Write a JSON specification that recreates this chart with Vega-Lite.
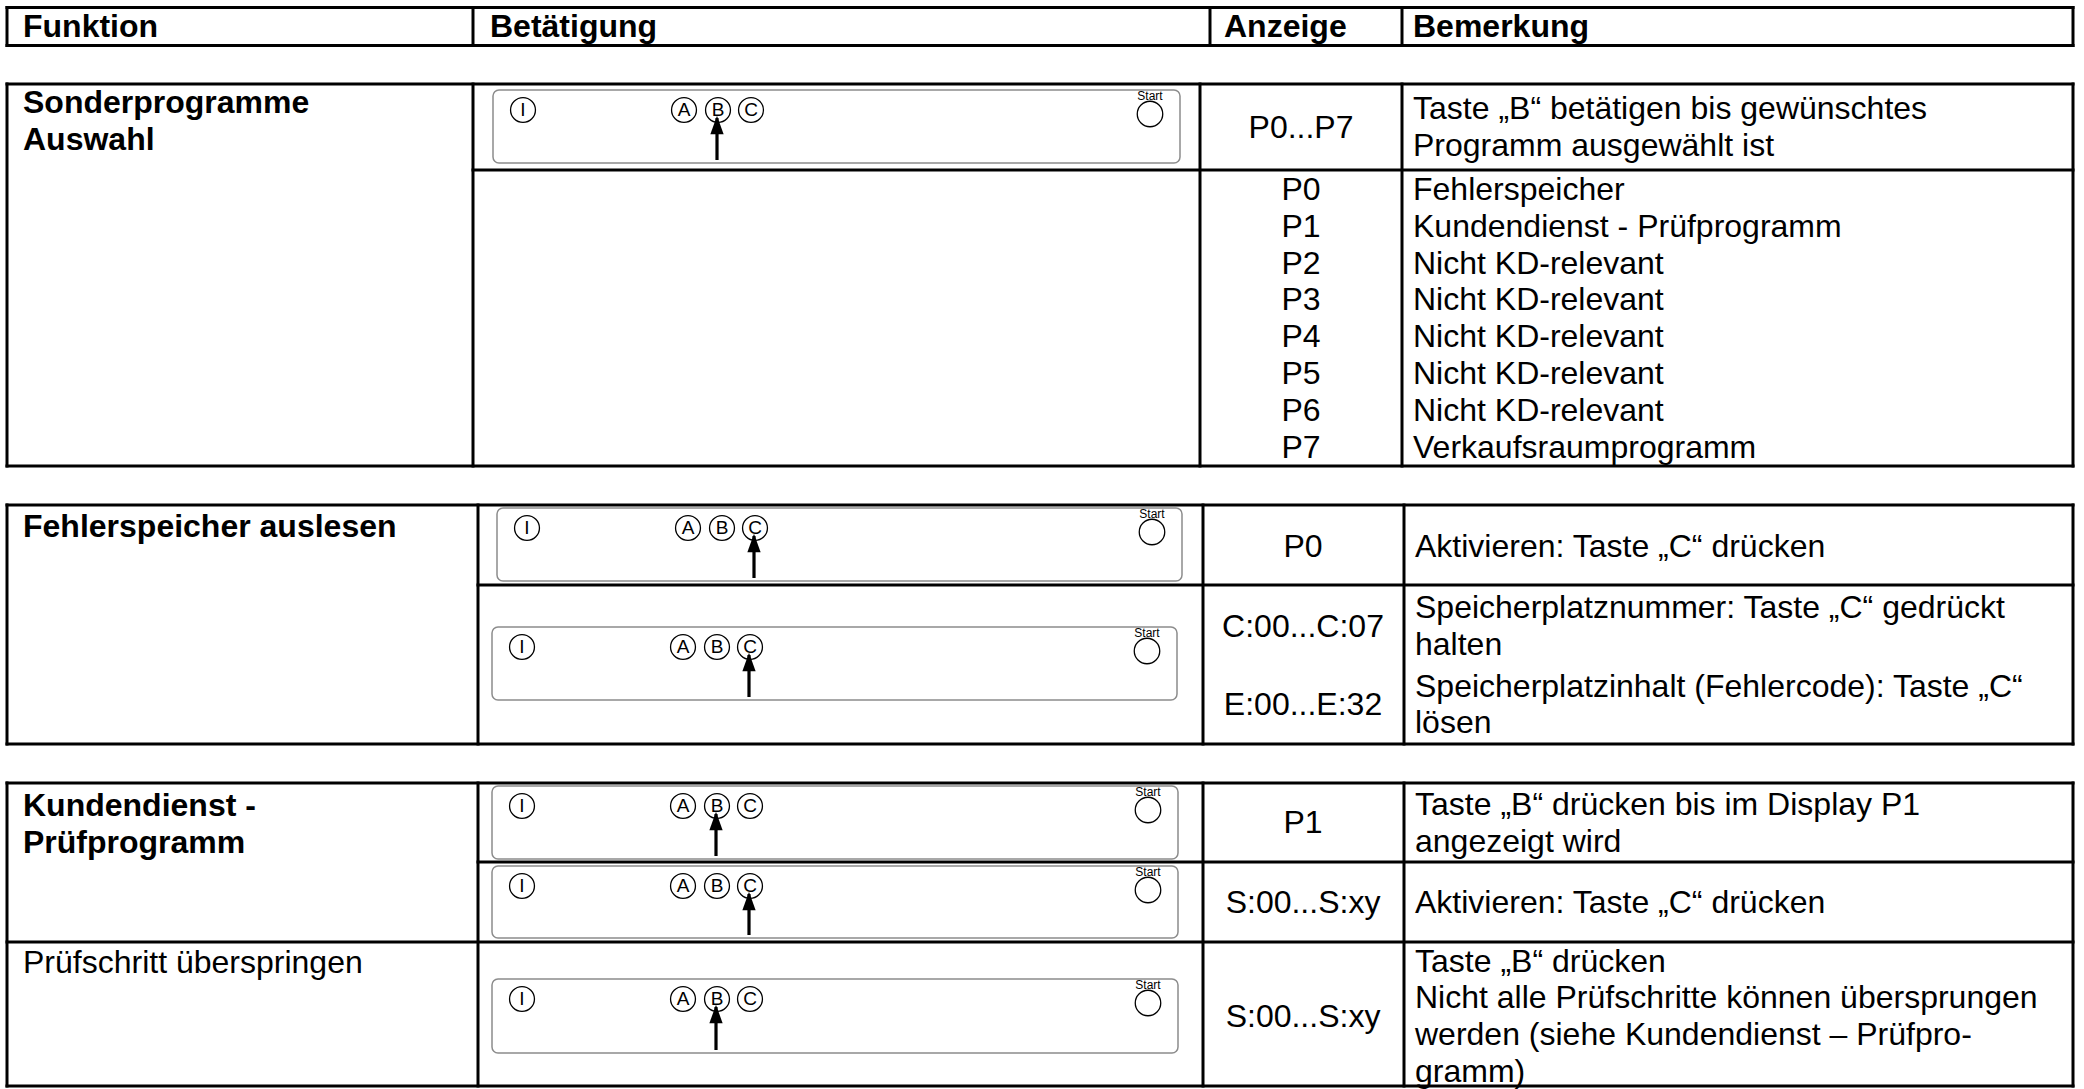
{
  "$schema": "https://vega.github.io/schema/vega-lite/v6.json",
  "autosize": {"type": "fit", "contains": "padding"},
  "width": 2084,
  "height": 1089,
  "padding": 0,
  "background": "white",
  "config": {"view": {"stroke": null}, "font": "Liberation Sans"},
  "datasets": {
    "grid": [
      {"x": 7, "x2": 2073, "y": 7.5, "y2": 7.5},
      {"x": 7, "x2": 2073, "y": 45.5, "y2": 45.5},
      {"x": 7, "x2": 7, "y": 7.5, "y2": 45.5},
      {"x": 473, "x2": 473, "y": 7.5, "y2": 45.5},
      {"x": 1210, "x2": 1210, "y": 7.5, "y2": 45.5},
      {"x": 1402, "x2": 1402, "y": 7.5, "y2": 45.5},
      {"x": 2073, "x2": 2073, "y": 7.5, "y2": 45.5},
      {"x": 7, "x2": 2073, "y": 84, "y2": 84},
      {"x": 473, "x2": 2073, "y": 170, "y2": 170},
      {"x": 7, "x2": 2073, "y": 466, "y2": 466},
      {"x": 7, "x2": 7, "y": 84, "y2": 466},
      {"x": 473, "x2": 473, "y": 84, "y2": 466},
      {"x": 1200, "x2": 1200, "y": 84, "y2": 466},
      {"x": 1402, "x2": 1402, "y": 84, "y2": 466},
      {"x": 2073, "x2": 2073, "y": 84, "y2": 466},
      {"x": 7, "x2": 2073, "y": 505, "y2": 505},
      {"x": 478, "x2": 2073, "y": 585, "y2": 585},
      {"x": 7, "x2": 2073, "y": 744, "y2": 744},
      {"x": 7, "x2": 7, "y": 505, "y2": 744},
      {"x": 478, "x2": 478, "y": 505, "y2": 744},
      {"x": 1203, "x2": 1203, "y": 505, "y2": 744},
      {"x": 1404, "x2": 1404, "y": 505, "y2": 744},
      {"x": 2073, "x2": 2073, "y": 505, "y2": 744},
      {"x": 7, "x2": 2073, "y": 783, "y2": 783},
      {"x": 478, "x2": 2073, "y": 862, "y2": 862},
      {"x": 7, "x2": 2073, "y": 942, "y2": 942},
      {"x": 7, "x2": 2073, "y": 1086, "y2": 1086},
      {"x": 7, "x2": 7, "y": 783, "y2": 1086},
      {"x": 478, "x2": 478, "y": 783, "y2": 1086},
      {"x": 1203, "x2": 1203, "y": 783, "y2": 1086},
      {"x": 1404, "x2": 1404, "y": 783, "y2": 1086},
      {"x": 2073, "x2": 2073, "y": 783, "y2": 1086}
    ],
    "panels": [
      {"panel": "S1", "x": 493, "x2": 1180, "y": 90, "y2": 163},
      {"panel": "S2a", "x": 497, "x2": 1182, "y": 508, "y2": 581},
      {"panel": "S2b", "x": 492, "x2": 1177, "y": 627, "y2": 700},
      {"panel": "S3a", "x": 492, "x2": 1178, "y": 786, "y2": 859},
      {"panel": "S3b", "x": 492, "x2": 1178, "y": 866, "y2": 938},
      {"panel": "S3c", "x": 492, "x2": 1178, "y": 979, "y2": 1053}
    ],
    "keys": [
      {"panel": "S1", "k": "I", "x": 523, "y": 110},
      {"panel": "S1", "k": "A", "x": 684, "y": 110},
      {"panel": "S1", "k": "B", "x": 718, "y": 110},
      {"panel": "S1", "k": "C", "x": 751, "y": 110},
      {"panel": "S2a", "k": "I", "x": 527, "y": 528},
      {"panel": "S2a", "k": "A", "x": 688, "y": 528},
      {"panel": "S2a", "k": "B", "x": 722, "y": 528},
      {"panel": "S2a", "k": "C", "x": 755, "y": 528},
      {"panel": "S2b", "k": "I", "x": 522, "y": 647},
      {"panel": "S2b", "k": "A", "x": 683, "y": 647},
      {"panel": "S2b", "k": "B", "x": 717, "y": 647},
      {"panel": "S2b", "k": "C", "x": 750, "y": 647},
      {"panel": "S3a", "k": "I", "x": 522, "y": 806},
      {"panel": "S3a", "k": "A", "x": 683, "y": 806},
      {"panel": "S3a", "k": "B", "x": 717, "y": 806},
      {"panel": "S3a", "k": "C", "x": 750, "y": 806},
      {"panel": "S3b", "k": "I", "x": 522, "y": 886},
      {"panel": "S3b", "k": "A", "x": 683, "y": 886},
      {"panel": "S3b", "k": "B", "x": 717, "y": 886},
      {"panel": "S3b", "k": "C", "x": 750, "y": 886},
      {"panel": "S3c", "k": "I", "x": 522, "y": 999},
      {"panel": "S3c", "k": "A", "x": 683, "y": 999},
      {"panel": "S3c", "k": "B", "x": 717, "y": 999},
      {"panel": "S3c", "k": "C", "x": 750, "y": 999}
    ],
    "startbtn": [
      {"panel": "S1", "label": "Start", "x": 1150, "y": 114},
      {"panel": "S2a", "label": "Start", "x": 1152, "y": 532},
      {"panel": "S2b", "label": "Start", "x": 1147, "y": 651},
      {"panel": "S3a", "label": "Start", "x": 1148, "y": 810},
      {"panel": "S3b", "label": "Start", "x": 1148, "y": 890},
      {"panel": "S3c", "label": "Start", "x": 1148, "y": 1003}
    ],
    "arrows": [
      {"panel": "S1", "key": "B", "x": 717, "tip": 118, "bot": 160},
      {"panel": "S2a", "key": "C", "x": 754, "tip": 536, "bot": 578},
      {"panel": "S2b", "key": "C", "x": 749, "tip": 655, "bot": 697},
      {"panel": "S3a", "key": "B", "x": 716, "tip": 814, "bot": 856},
      {"panel": "S3b", "key": "C", "x": 749, "tip": 894, "bot": 935},
      {"panel": "S3c", "key": "B", "x": 716, "tip": 1007, "bot": 1050}
    ],
    "cells": [
      {"col": "head", "x": 23, "y": 27, "t": "Funktion"},
      {"col": "head", "x": 490, "y": 27, "t": "Betätigung"},
      {"col": "head", "x": 1224, "y": 27, "t": "Anzeige"},
      {"col": "head", "x": 1413, "y": 27, "t": "Bemerkung"},
      {"col": "funktion", "level": "title", "x": 23, "y": 103, "t": "Sonderprogramme"},
      {"col": "funktion", "level": "title", "x": 23, "y": 140, "t": "Auswahl"},
      {"col": "funktion", "level": "title", "x": 23, "y": 527, "t": "Fehlerspeicher auslesen"},
      {"col": "funktion", "level": "title", "x": 23, "y": 806, "t": "Kundendienst -"},
      {"col": "funktion", "level": "title", "x": 23, "y": 843, "t": "Prüfprogramm"},
      {"col": "funktion", "level": "step", "x": 23, "y": 963, "t": "Prüfschritt überspringen"},
      {"col": "anzeige", "x": 1301, "y": 128, "t": "P0...P7"},
      {"col": "anzeige", "x": 1301, "y": 190, "t": "P0"},
      {"col": "anzeige", "x": 1301, "y": 227, "t": "P1"},
      {"col": "anzeige", "x": 1301, "y": 264, "t": "P2"},
      {"col": "anzeige", "x": 1301, "y": 300, "t": "P3"},
      {"col": "anzeige", "x": 1301, "y": 337, "t": "P4"},
      {"col": "anzeige", "x": 1301, "y": 374, "t": "P5"},
      {"col": "anzeige", "x": 1301, "y": 411, "t": "P6"},
      {"col": "anzeige", "x": 1301, "y": 448, "t": "P7"},
      {"col": "anzeige", "x": 1303, "y": 547, "t": "P0"},
      {"col": "anzeige", "x": 1303, "y": 627, "t": "C:00...C:07"},
      {"col": "anzeige", "x": 1303, "y": 705, "t": "E:00...E:32"},
      {"col": "anzeige", "x": 1303, "y": 823, "t": "P1"},
      {"col": "anzeige", "x": 1303, "y": 903, "t": "S:00...S:xy"},
      {"col": "anzeige", "x": 1303, "y": 1017, "t": "S:00...S:xy"},
      {"col": "bemerkung", "x": 1413, "y": 109, "t": "Taste „B“ betätigen bis gewünschtes"},
      {"col": "bemerkung", "x": 1413, "y": 146, "t": "Programm ausgewählt ist"},
      {"col": "bemerkung", "x": 1413, "y": 190, "t": "Fehlerspeicher"},
      {"col": "bemerkung", "x": 1413, "y": 227, "t": "Kundendienst - Prüfprogramm"},
      {"col": "bemerkung", "x": 1413, "y": 264, "t": "Nicht KD-relevant"},
      {"col": "bemerkung", "x": 1413, "y": 300, "t": "Nicht KD-relevant"},
      {"col": "bemerkung", "x": 1413, "y": 337, "t": "Nicht KD-relevant"},
      {"col": "bemerkung", "x": 1413, "y": 374, "t": "Nicht KD-relevant"},
      {"col": "bemerkung", "x": 1413, "y": 411, "t": "Nicht KD-relevant"},
      {"col": "bemerkung", "x": 1413, "y": 448, "t": "Verkaufsraumprogramm"},
      {"col": "bemerkung", "x": 1415, "y": 547, "t": "Aktivieren: Taste „C“ drücken"},
      {"col": "bemerkung", "x": 1415, "y": 608, "t": "Speicherplatznummer: Taste „C“ gedrückt"},
      {"col": "bemerkung", "x": 1415, "y": 645, "t": "halten"},
      {"col": "bemerkung", "x": 1415, "y": 687, "t": "Speicherplatzinhalt (Fehlercode): Taste „C“"},
      {"col": "bemerkung", "x": 1415, "y": 723, "t": "lösen"},
      {"col": "bemerkung", "x": 1415, "y": 805, "t": "Taste „B“ drücken bis im Display P1"},
      {"col": "bemerkung", "x": 1415, "y": 842, "t": "angezeigt wird"},
      {"col": "bemerkung", "x": 1415, "y": 903, "t": "Aktivieren: Taste „C“ drücken"},
      {"col": "bemerkung", "x": 1415, "y": 962, "t": "Taste „B“ drücken"},
      {"col": "bemerkung", "x": 1415, "y": 998, "t": "Nicht alle Prüfschritte können übersprungen"},
      {"col": "bemerkung", "x": 1415, "y": 1035, "t": "werden (siehe Kundendienst – Prüfpro-"},
      {"col": "bemerkung", "x": 1415, "y": 1072, "t": "gramm)"}
    ]
  },
  "encoding": {
    "x": {"field": "x", "type": "quantitative", "scale": {"domain": [0, 2084], "nice": false, "zero": false}, "axis": null},
    "y": {"field": "y", "type": "quantitative", "scale": {"domain": [0, 1089], "nice": false, "zero": false, "reverse": true}, "axis": null}
  },
  "layer": [
    {
      "data": {"name": "grid"},
      "mark": {"type": "rule", "color": "black", "strokeWidth": 3, "strokeCap": "square"},
      "encoding": {"x2": {"field": "x2"}, "y2": {"field": "y2"}}
    },
    {
      "data": {"name": "panels"},
      "mark": {"type": "rect", "fill": "white", "stroke": "#8c8c8c", "strokeWidth": 1.5, "cornerRadius": 6},
      "encoding": {"x2": {"field": "x2"}, "y2": {"field": "y2"}}
    },
    {
      "data": {"name": "keys"},
      "mark": {"type": "point", "shape": "circle", "filled": false, "stroke": "black", "strokeWidth": 1.3, "size": 620, "opacity": 1}
    },
    {
      "data": {"name": "keys"},
      "mark": {"type": "text", "font": "Liberation Sans", "fontSize": 19, "align": "center", "baseline": "middle", "color": "black"},
      "encoding": {"text": {"field": "k", "type": "nominal"}}
    },
    {
      "data": {"name": "startbtn"},
      "mark": {"type": "point", "shape": "circle", "filled": false, "stroke": "black", "strokeWidth": 1.3, "size": 650, "opacity": 1}
    },
    {
      "data": {"name": "startbtn"},
      "mark": {"type": "text", "font": "Liberation Sans", "fontSize": 12, "align": "center", "baseline": "middle", "color": "black", "yOffset": -18},
      "encoding": {"text": {"field": "label", "type": "nominal"}}
    },
    {
      "data": {"name": "arrows"},
      "mark": {"type": "rule", "color": "black", "strokeWidth": 3.2},
      "encoding": {"y": {"field": "tip", "type": "quantitative"}, "y2": {"field": "bot"}}
    },
    {
      "data": {"name": "arrows"},
      "mark": {"type": "point", "shape": "M0,-1L0.72,1L-0.72,1Z", "filled": true, "fill": "black", "stroke": null, "size": 340, "opacity": 1, "yOffset": 7},
      "encoding": {"y": {"field": "tip", "type": "quantitative"}}
    },
    {
      "data": {"name": "cells"},
      "transform": [{"filter": "datum.col === 'head' || datum.level === 'title'"}],
      "mark": {"type": "text", "font": "Liberation Sans", "fontWeight": "bold", "fontSize": 32, "align": "left", "baseline": "middle", "color": "black"},
      "encoding": {"text": {"field": "t", "type": "nominal"}}
    },
    {
      "data": {"name": "cells"},
      "transform": [{"filter": "datum.col === 'bemerkung' || datum.level === 'step'"}],
      "mark": {"type": "text", "font": "Liberation Sans", "fontSize": 32, "align": "left", "baseline": "middle", "color": "black"},
      "encoding": {"text": {"field": "t", "type": "nominal"}}
    },
    {
      "data": {"name": "cells"},
      "transform": [{"filter": "datum.col === 'anzeige'"}],
      "mark": {"type": "text", "font": "Liberation Sans", "fontSize": 32, "align": "center", "baseline": "middle", "color": "black"},
      "encoding": {"text": {"field": "t", "type": "nominal"}}
    }
  ]
}
